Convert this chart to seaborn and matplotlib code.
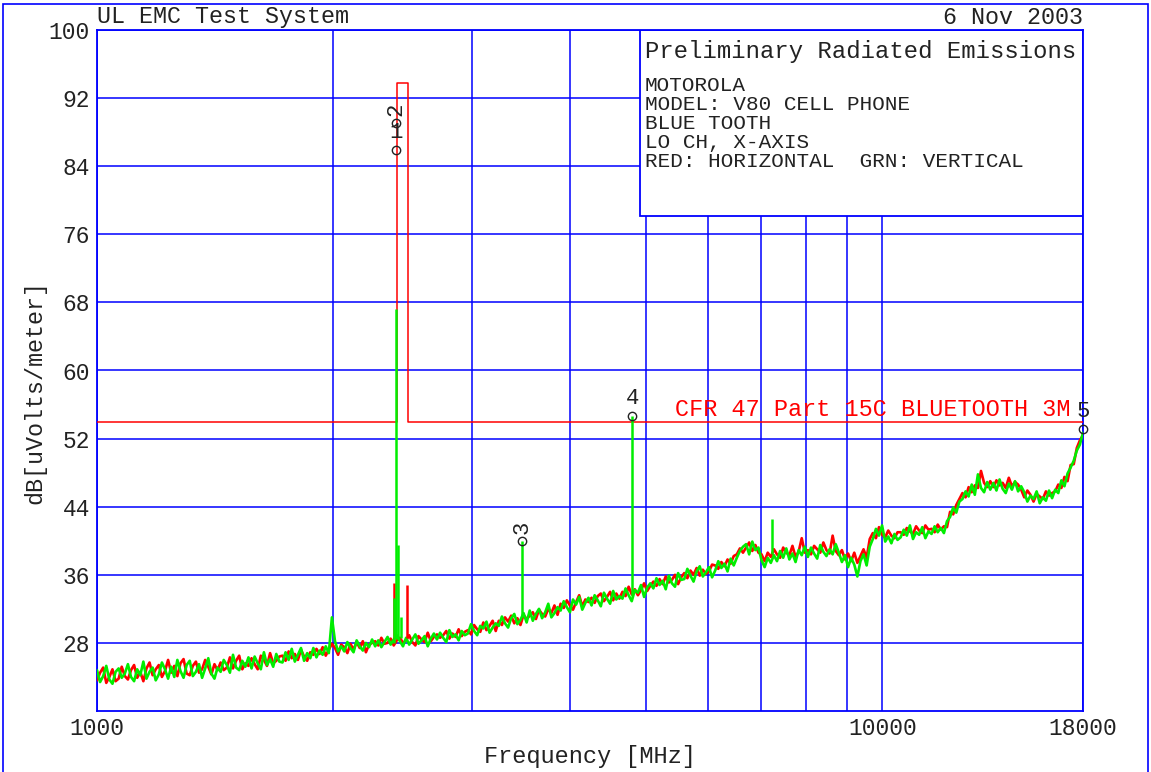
import numpy as np
import pandas as pd
import matplotlib
matplotlib.use("Agg")
import matplotlib.pyplot as plt
from matplotlib.patches import Rectangle
import seaborn as sns

# ---------------- data ----------------
# horizontal (red) sweep levels, dBuV/m, 320 bins of a log sweep 1000-18000 MHz
h_level = [
    23.6, 24.5, 25.1, 23.3, 24.0, 24.9, 23.5, 23.8, 25.2, 24.1,
    23.7, 24.8, 25.4, 23.9, 24.6, 23.5, 25.0, 25.7, 24.2, 24.9,
    25.4, 24.0, 24.7, 26.0, 24.5, 25.3, 24.1, 25.6, 26.1, 24.4,
    24.2, 25.3, 25.8, 24.5, 24.9, 26.0, 25.2, 24.3, 25.5, 24.8,
    25.7, 24.8, 25.1, 26.3, 25.0, 25.9, 26.5, 24.9, 25.6, 25.3,
    26.2, 25.5, 24.9, 26.5, 26.0, 25.3, 26.8, 25.6, 25.9, 26.4,
    26.5, 25.9, 27.0, 26.2, 26.7, 26.0, 27.2, 26.4, 25.9, 26.9,
    26.6, 27.3, 26.7, 27.5, 26.5, 27.2, 27.9, 27.4, 26.6, 27.8,
    27.5, 26.8, 27.9, 27.2, 28.1, 27.4, 28.2, 26.9, 27.8, 28.0,
    28.2, 27.7, 28.6, 27.9, 28.0, 28.5, 27.7, 28.3, 28.6, 28.0,
    28.3, 28.9, 28.1, 27.7, 28.8, 28.4, 28.1, 29.2, 28.2, 28.7,
    29.0, 28.6, 28.9, 29.4, 28.5, 29.1, 28.7, 29.6, 28.8, 29.3,
    29.5, 29.0, 30.1, 29.6, 29.3, 30.4, 29.5, 30.0, 30.6, 29.4,
    30.6, 30.1, 31.0, 30.5, 31.2, 30.3, 30.9, 30.1, 31.3, 30.8,
    31.2, 31.6, 30.8, 31.9, 31.4, 31.1, 32.0, 31.5, 32.4, 31.3,
    32.6, 32.1, 33.0, 32.4, 31.9, 32.8, 33.6, 32.3, 33.1, 32.8,
    33.3, 32.7, 33.5, 33.8, 32.9, 33.4, 34.0, 33.0, 33.8, 33.2,
    34.0, 33.5, 34.6, 33.7, 34.3, 33.6, 34.2, 35.0, 34.1, 34.7,
    35.2, 34.7, 35.5, 34.9, 35.8, 35.1, 35.4, 36.0, 34.9, 35.7,
    36.2, 35.6, 36.5, 36.0, 36.8, 35.9, 36.6, 36.1, 36.4, 37.2,
    37.1, 36.7, 37.5, 37.0, 37.8, 37.3, 38.2, 38.4, 39.1, 38.6,
    39.2, 39.8, 38.8, 39.5, 38.6, 38.4, 37.6, 38.6, 38.1, 39.0,
    38.4, 38.0, 39.2, 38.6, 38.3, 39.4, 38.1, 38.7, 40.3, 38.6,
    38.9, 38.4, 39.4, 39.0, 38.6, 39.8, 38.9, 38.5, 40.6, 38.8,
    38.3, 38.9, 37.8, 38.5, 37.6, 38.6, 37.4, 38.2, 39.0, 38.0,
    40.2, 40.9, 40.3, 41.6, 40.7, 40.4, 41.2, 40.6, 40.3, 41.0,
    41.0, 40.7, 41.5, 41.1, 40.8, 41.7, 41.2, 40.9, 41.8, 41.3,
    41.4, 41.0, 41.9, 41.3, 41.7, 41.6, 43.4, 43.1, 44.2, 44.9,
    45.6, 45.1, 46.3, 45.7, 46.5, 46.2, 48.2, 46.8, 46.3, 47.0,
    46.3, 47.1, 46.5, 46.8, 46.2, 47.4, 46.4, 46.9, 46.6, 46.0,
    45.1, 45.9, 45.4, 44.6, 45.5, 45.2, 44.9, 45.8, 45.3, 45.6,
    45.8, 46.6, 46.2, 47.5, 47.0, 48.9, 49.0, 50.9, 51.8, 52.4,
]
# vertical (green) sweep levels
v_level = [
    24.8, 23.4, 24.1, 25.3, 23.7, 23.2, 24.6, 25.0, 23.9, 24.4,
    25.5, 24.0, 23.5, 24.9, 24.2, 25.8, 23.8, 24.6, 25.1, 23.6,
    24.3, 25.7, 24.9, 23.8, 25.2, 24.0, 26.0, 24.7, 23.9, 25.4,
    25.9, 24.1, 24.6, 25.5, 23.9, 25.0, 26.2, 24.4, 23.8, 25.1,
    24.6, 26.0, 25.4, 24.5, 26.6, 25.1, 24.8, 25.9, 25.2, 26.3,
    25.0, 26.4, 25.6, 24.9, 26.9, 25.4, 26.1, 25.2, 26.7, 25.8,
    25.7, 26.9, 26.0, 27.3, 25.8, 26.6, 27.4, 25.9, 26.8, 26.2,
    27.4, 26.3, 27.1, 26.6, 27.6, 26.8, 31.0, 28.2, 27.0, 27.6,
    27.0, 28.1, 27.4, 26.9, 28.3, 27.6, 27.1, 28.0, 27.5, 28.4,
    27.6, 28.3, 27.5, 28.1, 28.7, 27.8, 28.4, 28.9, 28.2, 27.6,
    28.6, 27.8, 28.4, 29.0, 27.9, 28.3, 28.8, 27.6, 28.5, 29.1,
    28.4, 29.2, 28.6, 28.1, 29.5, 28.7, 29.0, 28.3, 29.4, 28.9,
    29.1, 30.2, 29.4, 28.9, 30.0, 29.7, 30.5, 29.2, 29.8, 30.3,
    30.0, 31.1, 30.3, 29.8, 30.9, 31.4, 30.2, 30.7, 31.5, 30.4,
    31.8, 30.6, 31.4, 32.0, 30.9, 31.6, 32.6, 31.0, 31.5, 32.2,
    31.8, 32.9, 32.2, 31.6, 33.1, 32.5, 33.4, 31.9, 32.7, 33.3,
    32.4, 33.6, 33.0, 32.3, 33.9, 33.2, 32.6, 34.1, 33.1, 33.5,
    33.2, 34.4, 33.6, 32.9, 34.2, 33.9, 34.8, 33.4, 34.5, 35.0,
    34.4, 35.6, 34.8, 35.3, 34.3, 35.9, 35.0, 34.6, 36.2, 35.4,
    35.5, 36.7, 35.9, 35.2, 36.4, 37.0, 35.8, 36.3, 36.9, 35.7,
    36.5, 37.6, 36.8, 37.3, 36.4, 37.9, 37.1, 38.0, 38.8, 39.3,
    39.6, 38.4, 39.9, 38.9, 39.2, 37.7, 36.9, 38.0, 37.4, 38.3,
    37.6, 38.8, 38.0, 39.1, 37.8, 38.5, 37.5, 38.9, 38.3, 39.3,
    38.1, 39.2, 38.5, 37.9, 39.5, 38.7, 38.2, 39.0, 38.4, 39.6,
    38.6, 37.5, 38.3, 36.9, 38.0, 37.2, 35.8, 37.6, 38.4, 37.1,
    39.3, 40.2, 41.4, 40.6, 41.8, 39.9, 40.5, 39.7, 40.8, 40.1,
    40.4, 41.3, 40.6, 41.8, 40.2, 41.0, 40.7, 41.6, 40.3, 41.1,
    40.8, 41.7, 41.0, 41.5, 40.9, 42.3, 42.8, 43.9, 43.3, 44.6,
    44.9, 45.8, 45.2, 46.6, 45.4, 47.8, 46.2, 45.7, 46.9, 46.0,
    46.8, 45.9, 47.2, 46.1, 45.6, 46.7, 46.0, 47.0, 45.8, 46.4,
    45.7, 44.6, 45.3, 44.9, 45.8, 44.4, 45.1, 44.7, 45.9, 45.0,
    46.0, 45.6, 47.1, 46.4, 47.9, 48.6, 49.4, 50.6, 51.3, 52.7,
]
sweep_start, sweep_stop = 1000, 18000

# narrow emissions (frequency MHz, floor, peak)
h_spike_freq = [2388, 2478]
h_spike_floor = [28.4, 28.6]
h_spike_peak = [35.0, 34.8]
v_spike_freq = [2390, 2402, 2414, 2440, 3475, 4804, 7233]
v_spike_floor = [28.0, 28.5, 28.5, 28.6, 31.0, 33.5, 38.5]
v_spike_peak = [33.3, 67.2, 39.5, 31.0, 40.0, 54.7, 42.5]

# limit line: CFR 47 Part 15C Bluetooth 3 m
limit_freq = [1000, 2412, 2412, 2488, 2488, 18000]
limit_level = [54, 54, 93.8, 93.8, 54, 54]

# markers
mk_freq = [2402, 2402, 3475, 4804, 18000]
mk_level = [85.9, 89.1, 40.0, 54.7, 53.1]
mk_label = ["1", "2", "3", "4", "5"]
mk_rot = [0, 90, 90, 0, 0]

y_ticks = [28, 36, 44, 52, 60, 68, 76, 84, 92, 100]
x_major = [1000, 10000, 18000]
x_major_labels = ["1000", "10000", "18000"]
x_minor = [2000, 3000, 4000, 5000, 6000, 7000, 8000, 9000]

info_lines = ["MOTOROLA", "MODEL: V80 CELL PHONE", "BLUE TOOTH",
              "LO CH, X-AXIS", "RED: HORIZONTAL  GRN: VERTICAL"]

# ---------------- styling ----------------
sns.set_theme(style="white")
plt.rcParams["font.family"] = ["Liberation Mono", "DejaVu Sans Mono"]
TXT = "#222222"
BLUE = "#0000ff"
RED = "#ff0000"
GREEN = "#00ee00"

fig = plt.figure(figsize=(11.51, 7.72), dpi=100)
ax = fig.add_axes([97 / 1151, 61 / 772, 986 / 1151, 681 / 772])

freq = np.geomspace(sweep_start, sweep_stop, len(h_level))
df = pd.concat([
    pd.DataFrame({"freq": freq, "level": h_level, "pol": "H"}),
    pd.DataFrame({"freq": freq, "level": v_level, "pol": "V"}),
])
sns.lineplot(data=df, x="freq", y="level", hue="pol", palette={"H": RED, "V": GREEN},
             estimator=None, sort=False, lw=1.9, legend=False, ax=ax, zorder=3)
ax.vlines(h_spike_freq, h_spike_floor, h_spike_peak, color=RED, lw=1.8, zorder=3.2)
ax.vlines(v_spike_freq, v_spike_floor, v_spike_peak, color=GREEN, lw=1.8, zorder=4.5)

ax.plot(limit_freq, limit_level, color=RED, lw=1.1, zorder=4)

ax.set_xscale("log")
ax.set_xlim(sweep_start, sweep_stop)
ax.set_ylim(20, 100)
ax.set_yticks(y_ticks)
ax.set_yticklabels([str(t) for t in y_ticks])
ax.set_xticks(x_major)
ax.set_xticklabels(x_major_labels)
ax.set_xticks(x_minor, minor=True)
ax.xaxis.set_minor_formatter(matplotlib.ticker.NullFormatter())
ax.tick_params(axis="both", which="both", length=0, labelsize=16.5, colors=TXT)
ax.tick_params(axis="y", pad=5)
ax.tick_params(axis="x", pad=4)
ax.grid(True, axis="y", which="major", color=BLUE, lw=1.1, zorder=1)
ax.grid(True, axis="x", which="both", color=BLUE, lw=1.1, zorder=1)
ax.set_axisbelow(True)
for s in ax.spines.values():
    s.set_color(BLUE)
    s.set_linewidth(1.3)
    s.set_visible(True)
ax.set_xlabel("")
ax.set_ylabel("")

# marker labels
for f, lv, lab, rot in zip(mk_freq, mk_level, mk_label, mk_rot):
    ax.plot([f], [lv], marker="o", ms=6, mfc="none", mec=TXT, mew=1.0, zorder=6, clip_on=False)
    ax.annotate(lab, (f, lv), xytext=(0, 5), textcoords="offset points", ha="center",
                va="bottom", fontsize=16, color=TXT, rotation=rot, zorder=6)

# info box
ax.add_patch(Rectangle((0.5507, 0.7269), 1 - 0.5507, 1 - 0.7269, transform=ax.transAxes,
                       facecolor="white", edgecolor=BLUE, lw=1.3, zorder=2.5))
ax.text(0.5558, 0.9677, "Preliminary Radiated Emissions", transform=ax.transAxes,
        ha="left", va="center", fontsize=17.2, color=TXT, zorder=7)
for i, line in enumerate(info_lines):
    ax.text(0.5558, 0.9192 - i * 0.0279, line, transform=ax.transAxes,
            ha="left", va="center", fontsize=15.1, color=TXT, zorder=7)

ax.text(5450, 55.4, "CFR 47 Part 15C BLUETOOTH 3M", ha="left", va="center",
        fontsize=16.9, color=RED, zorder=7)

fig.text(97 / 1151, 1 - 17 / 772, "UL EMC Test System", ha="left", va="center",
         fontsize=16.8, color=TXT)
fig.text(1083 / 1151, 1 - 17 / 772, "6 Nov 2003", ha="right", va="center",
         fontsize=16.8, color=TXT)
fig.text(590 / 1151, 1 - 757 / 772, "Frequency [MHz]", ha="center", va="center",
         fontsize=17, color=TXT)
fig.text(35 / 1151, 1 - 392 / 772, "dB[uVolts/meter]", ha="center", va="center",
         rotation=90, fontsize=16.8, color=TXT)

fig.add_artist(Rectangle((3 / 1151, -0.01), 1145 / 1151, 1 - 4 / 772 + 0.01,
                         transform=fig.transFigure, fill=False, edgecolor=BLUE, lw=1.2))

fig.savefig("out.png", dpi=100)
